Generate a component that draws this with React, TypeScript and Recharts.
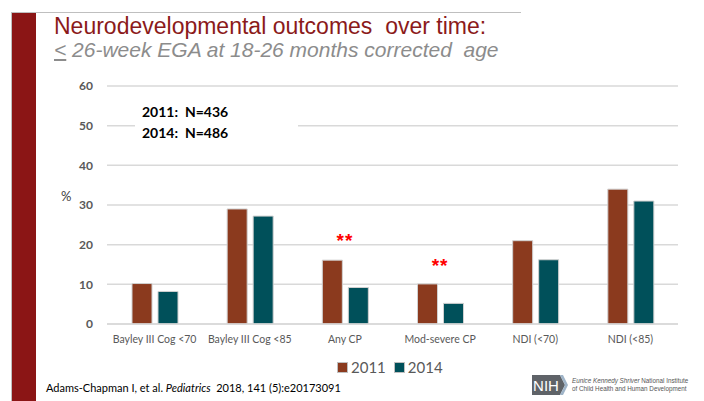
import React from 'react';
import { BarChart, Bar, XAxis, YAxis, CartesianGrid, ReferenceDot } from 'recharts';

const categories = ['Bayley III Cog <70', 'Bayley III Cog <85', 'Any CP', 'Mod-severe CP', 'NDI (<70)', 'NDI (<85)'];
const values2011 = [10.2, 29.0, 16.1, 10.1, 21.0, 34.0];
const values2014 = [8.2, 27.2, 9.2, 5.2, 16.2, 31.0];
const yTicks = [0, 10, 20, 30, 40, 50, 60];
const sigCategories = ['Any CP', 'Mod-severe CP'];
const sigLevels = [21.0, 14.9];
const seriesNames = ['2011', '2014'];
const sampleSizes = ['N=436', 'N=486'];

const data = categories.map((c, i) => ({ name: c, y2011: values2011[i], y2014: values2014[i] }));

const C2011 = '#8B3A1E';
const C2014 = '#00505A';
const calibri = 'Lato, "Open Sans", sans-serif';

export default function App() {
  return (
    <div style={{ position: 'absolute', left: 0, top: 0, width: 704, height: 401, background: '#fff', overflow: 'hidden' }}>
      {/* left maroon band and top rule */}
      <div style={{ position: 'absolute', left: 11, top: 12, width: 510, height: 1, background: '#bfbfbf' }} />
      <div style={{ position: 'absolute', left: 11, top: 12, width: 1, height: 389, background: '#bfbfbf' }} />
      <div style={{ position: 'absolute', left: 12, top: 13, width: 24, height: 388, background: '#8B1515' }} />
      <div style={{ position: 'absolute', left: 54, top: 13, fontFamily: '"Liberation Sans", Arial, sans-serif', fontSize: 23, color: '#8B1A1A', whiteSpace: 'nowrap' }}>
        Neurodevelopmental outcomes&nbsp; over time:
      </div>
      <div style={{ position: 'absolute', left: 54, top: 38, fontFamily: '"Liberation Sans", Arial, sans-serif', fontSize: 21, fontStyle: 'italic', color: '#8c8c8c', whiteSpace: 'nowrap' }}>
        <span style={{ textDecoration: 'underline' }}>&lt;</span> 26-week EGA at 18-26 months corrected&nbsp; age
      </div>

      <div style={{ position: 'absolute', left: 0, top: 0 }}>
        <BarChart width={704} height={401} data={data} margin={{ top: 86, right: 26, left: 0, bottom: 0 }} barGap={6} barSize={20}>
          <CartesianGrid vertical={false} stroke="#d9d9d9" strokeWidth={1.5} />
          <YAxis
            width={107}
            domain={[0, 60]}
            ticks={yTicks}
            axisLine={false}
            tickLine={false}
            tickMargin={8}
            tick={{ fill: '#595959', fontSize: 12, fontWeight: 700, fontFamily: calibri }}
          />
          <XAxis
            dataKey="name"
            height={77}
            axisLine={{ stroke: '#d9d9d9', strokeWidth: 1.5 }}
            tickLine={false}
            tickMargin={6}
            interval={0}
            tick={{ fill: '#595959', fontSize: 10.5, fontFamily: calibri }}
          />
          <Bar dataKey="y2011" name={seriesNames[0]} fill={C2011} stroke="#d0d0d0" strokeWidth={1} isAnimationActive={false} />
          <Bar dataKey="y2014" name={seriesNames[1]} fill={C2014} stroke="#d0d0d0" strokeWidth={1} isAnimationActive={false} />
          {sigCategories.map((c, i) => (
            <ReferenceDot key={c} x={c} y={sigLevels[i]} r={0} fill="none" stroke="none"
              label={{ value: '**', position: 'center', fill: '#ff0000', fontSize: 19, fontWeight: 700, letterSpacing: 1, fontFamily: '"Liberation Sans", Arial' }} />
          ))}
        </BarChart>
      </div>

      {/* legend */}
      <div style={{ position: 'absolute', left: 337, top: 358, display: 'flex', alignItems: 'center', fontFamily: calibri, fontSize: 15, color: '#595959' }}>
        {seriesNames.map((n, i) => (
          <div key={n} style={{ display: 'flex', alignItems: 'center', marginRight: 8 }}>
            <span style={{ width: 9, height: 9, background: i === 0 ? C2011 : C2014, border: '1px solid #bfbfbf', marginRight: 3, display: 'inline-block' }} />
            <span>{n}</span>
          </div>
        ))}
      </div>

      {/* sample size box */}
      <div style={{ position: 'absolute', left: 135, top: 101, width: 163, height: 46, background: '#fff', fontFamily: calibri, fontWeight: 700, fontSize: 14, color: '#000', lineHeight: '21px' }}>
        {seriesNames.map((n, i) => (
          <div key={n} style={{ paddingLeft: 7 }}>{n}:&nbsp; {sampleSizes[i]}</div>
        ))}
      </div>
      <div style={{ position: 'absolute', left: 61, top: 188, fontFamily: calibri, fontSize: 13, color: '#404040' }}>%</div>

      {/* footer */}
      <div style={{ position: 'absolute', left: 46, top: 381, fontFamily: calibri, fontSize: 11, color: '#000', whiteSpace: 'nowrap' }}>
        Adams-Chapman I, et al. <i>Pediatrics</i>&nbsp; 2018, 141 (5):e20173091
      </div>
      {/* NIH mark */}
      <svg style={{ position: 'absolute', left: 530, top: 374 }} width={174} height={24}>
        <polygon points="2,1 30,1 35,11 30,21 2,21" fill="#5f6368" />
        <polygon points="30,1 33,1 38,11 33,21 30,21 35,11" fill="#9fb4c8" />
        <text x={16} y={17} fill="#fff" fontFamily='"Liberation Sans", Arial' fontSize={15} textAnchor="middle">NIH</text>
        <text x={42} y={9} fill="#555" fontFamily='"Liberation Sans", Arial' fontSize={6.3}><tspan fontStyle="italic">Eunice Kennedy Shriver</tspan> National Institute</text>
        <text x={42} y={17} fill="#555" fontFamily='"Liberation Sans", Arial' fontSize={6.3}>of Child Health and Human Development</text>
      </svg>
    </div>
  );
}
